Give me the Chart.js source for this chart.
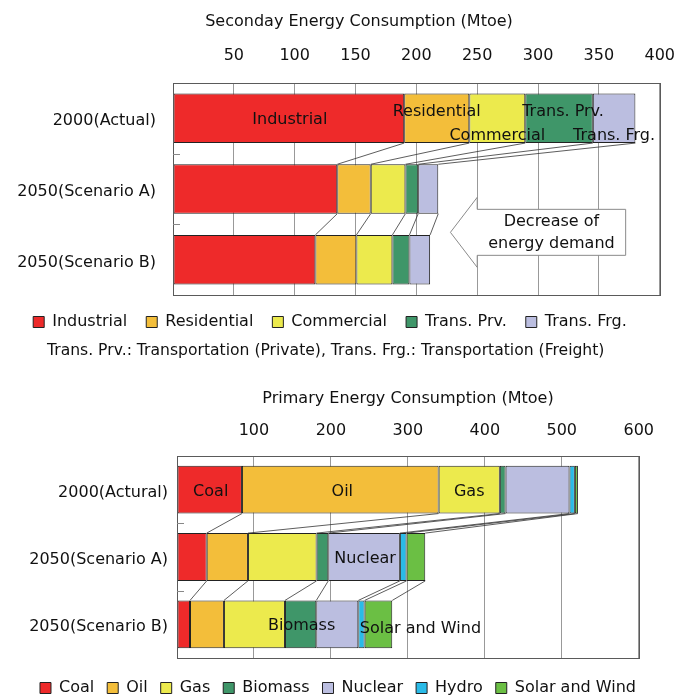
<!DOCTYPE html>
<html><head><meta charset="utf-8">
<script src="https://cdn.jsdelivr.net/npm/chart.js@4.4.1/dist/chart.umd.min.js"></script>
<style>
html,body{margin:0;padding:0;background:#fff;overflow:hidden;width:676px;height:700px}
#w1{position:absolute;left:0;top:0;width:676px;height:362px}
#w2{position:absolute;left:0;top:362px;width:676px;height:344px}
</style></head><body>
<div id="w1"><canvas id="c1"></canvas></div>
<div id="w2"><canvas id="c2"></canvas></div>
<script>
// ---- Secondary energy (Mtoe) ----
const secCategories = ['2000(Actual)', '2050(Scenario A)', '2050(Scenario B)'];
const secIndustrial  = [190, 135, 117];
const secResidential = [53.5, 27.5, 33.7];
const secCommercial  = [46, 28.5, 29.6];
const secTransPrv    = [55.5, 10.5, 14];
const secTransFrg    = [35, 16.5, 17];
const secTickMax = 400, secTickStep = 50;

// ---- Primary energy (Mtoe) ----
const priCategories = ['2000(Actural)', '2050(Scenario A)', '2050(Scenario B)'];
const priCoal      = [84.4, 38.6, 16.9];
const priOil       = [255.6, 53.6, 44.1];
const priGas       = [79.5, 89.2, 79.3];
const priBiomass   = [7.5, 15.2, 40.7];
const priNuclear   = [83, 93, 54.6];
const priHydro     = [7, 8.7, 8.2];
const priSolarWind = [4, 24.3, 35.9];
const priTickMax = 600, priTickStep = 100;

const C = {
  red: '#EE2A2A', orange: '#F3BE3A', yellow: '#ECEA4D', green: '#3F9669',
  lav: '#BBBEE0', cyan: '#2ABBE8', lgreen: '#6BBF44'
};

Chart.defaults.font.family = '"DejaVu Sans", sans-serif';
Chart.defaults.color = '#111';

function overlay(cfg) {
  return {
    id: 'overlay',
    afterDatasetsDraw(chart) {
      const ctx = chart.ctx, ca = chart.chartArea, ys = chart.scales.y, xs = chart.scales.x;
      const n = chart.data.datasets.length, nc = chart.data.labels.length;
      ctx.save();
      // connectors
      ctx.strokeStyle = '#333'; ctx.lineWidth = 0.8;
      for (let c = 0; c < nc - 1; c++) {
        for (let d = 0; d < n; d++) {
          const a = chart.getDatasetMeta(d).data[c];
          const b = chart.getDatasetMeta(d).data[c + 1];
          ctx.beginPath();
          ctx.moveTo(a.x, a.y + a.height / 2);
          ctx.lineTo(b.x, b.y - b.height / 2);
          ctx.stroke();
        }
      }
      // frame
      ctx.strokeStyle = '#5a5a5a'; ctx.lineWidth = 1;
      ctx.strokeRect(Math.round(ca.left) + 0.5, Math.round(ca.top) + 0.5,
        Math.round(ca.right - ca.left), Math.round(ca.bottom - ca.top));
      // tick marks at category boundaries
      ctx.strokeStyle = '#888';
      for (let c = 0; c < nc - 1; c++) {
        const yb = Math.round((ys.getPixelForValue(c) + ys.getPixelForValue(c + 1)) / 2) + 0.5;
        ctx.beginPath(); ctx.moveTo(ca.left, yb); ctx.lineTo(ca.left + 7, yb); ctx.stroke();
      }
      // callout
      const co = cfg.callout;
      if (co) {
        const l = xs.getPixelForValue(co.left), r = xs.getPixelForValue(co.right);
        const tip = xs.getPixelForValue(co.tip);
        const my = (ys.getPixelForValue(1) + ys.getPixelForValue(2)) / 2 + co.dy;
        ctx.beginPath();
        ctx.moveTo(tip, my);
        ctx.lineTo(l, my - co.wing);
        ctx.lineTo(l, my - co.half);
        ctx.lineTo(r, my - co.half);
        ctx.lineTo(r, my + co.half);
        ctx.lineTo(l, my + co.half);
        ctx.lineTo(l, my + co.wing);
        ctx.closePath();
        ctx.fillStyle = '#fff'; ctx.fill();
        ctx.strokeStyle = '#8a8a8a'; ctx.lineWidth = 1; ctx.stroke();
        ctx.fillStyle = '#111'; ctx.font = '16px "DejaVu Sans"';
        ctx.textAlign = 'center'; ctx.textBaseline = 'middle';
        ctx.fillText(co.lines[0], (l + r) / 2, my - 10);
        ctx.fillText(co.lines[1], (l + r) / 2, my + 12);
      }
      // in-bar labels
      ctx.fillStyle = '#111'; ctx.font = '16px "DejaVu Sans"';
      ctx.textAlign = 'center'; ctx.textBaseline = 'middle';
      cfg.labels.forEach(lb => {
        const el = chart.getDatasetMeta(lb.d).data[lb.c];
        ctx.fillText(chart.data.datasets[lb.d].label, (el.x + el.base) / 2 + lb.dx, el.y + lb.dy);
      });
      // title
      ctx.font = '16px "DejaVu Sans"';
      ctx.fillText(cfg.title, cfg.titleX, cfg.titleY);
      // note line
      if (cfg.note) {
        ctx.font = '15.6px "DejaVu Sans"';
        ctx.textAlign = 'left';
        ctx.fillText(cfg.note, cfg.noteX, ca.bottom + cfg.noteDy);
      }
      ctx.restore();
    }
  };
}

function ds(label, data, color) {
  return { label, data, backgroundColor: color, borderColor: '#222', borderWidth: 1, borderSkipped: false };
}

new Chart(document.getElementById('c1'), {
  type: 'bar',
  data: {
    labels: secCategories,
    datasets: [
      ds('Industrial', secIndustrial, C.red),
      ds('Residential', secResidential, C.orange),
      ds('Commercial', secCommercial, C.yellow),
      ds('Trans. Prv.', secTransPrv, C.green),
      ds('Trans. Frg.', secTransFrg, C.lav)
    ]
  },
  options: {
    indexAxis: 'y', responsive: true, maintainAspectRatio: false, animation: false,
    layout: { padding: { left: 0, right: 16, top: 0, bottom: 22 } },
    datasets: { bar: { barPercentage: 0.7, categoryPercentage: 1 } },
    scales: {
      x: {
        type: 'linear', position: 'top', stacked: true, min: 0, max: secTickMax,
        ticks: { stepSize: secTickStep, padding: 1, font: { size: 16 }, callback: v => v === 0 ? '' : v },
        grid: { color: '#999', drawTicks: true, tickLength: 17, tickColor: 'rgba(0,0,0,0)' }, border: { display: false },
        afterFit: s => { s.height = 83; }
      },
      y: {
        stacked: true,
        ticks: { padding: 17, labelOffset: 3, font: { size: 16 } },
        grid: { display: false, drawTicks: false }, border: { display: false },
        afterFit: s => { s.width = 173; }
      }
    },
    plugins: {
      legend: { position: 'bottom', labels: { boxWidth: 11, boxHeight: 11, padding: 19, font: { size: 16 } } },
      tooltip: { enabled: false }
    }
  },
  plugins: [overlay({
    title: 'Seconday Energy Consumption (Mtoe)', titleX: 359, titleY: 22,
    note: 'Trans. Prv.: Transportation (Private), Trans. Frg.: Transportation (Freight)', noteX: 47, noteDy: 56,
    labels: [
      { d: 0, c: 0, dx: 1, dy: 2 },
      { d: 1, c: 0, dx: 0, dy: -6 },
      { d: 2, c: 0, dx: 0, dy: 18 },
      { d: 3, c: 0, dx: 4, dy: -6 },
      { d: 4, c: 0, dx: 0, dy: 18 }
    ],
    callout: { left: 250, right: 372, tip: 228, dy: 8, half: 23, wing: 35, lines: ['Decrease of', 'energy demand'] }
  })]
});

new Chart(document.getElementById('c2'), {
  type: 'bar',
  data: {
    labels: priCategories,
    datasets: [
      ds('Coal', priCoal, C.red),
      ds('Oil', priOil, C.orange),
      ds('Gas', priGas, C.yellow),
      ds('Biomass', priBiomass, C.green),
      ds('Nuclear', priNuclear, C.lav),
      ds('Hydro', priHydro, C.cyan),
      ds('Solar and Wind', priSolarWind, C.lgreen)
    ]
  },
  options: {
    indexAxis: 'y', responsive: true, maintainAspectRatio: false, animation: false,
    layout: { padding: { left: 0, right: 0, top: 0, bottom: 0 } },
    datasets: { bar: { barPercentage: 0.71, categoryPercentage: 1 } },
    scales: {
      x: {
        type: 'linear', position: 'top', stacked: true, min: 0, max: priTickMax,
        ticks: { stepSize: priTickStep, padding: 22, font: { size: 16 }, callback: v => v === 0 ? '' : v },
        grid: { color: '#999', drawTicks: true, tickLength: -6.6, tickColor: 'rgba(0,0,0,0)' }, border: { display: false },
        afterFit: s => { s.height = 94; }
      },
      y: {
        stacked: true,
        ticks: { padding: 9, labelOffset: 3, font: { size: 16 } },
        grid: { display: false, drawTicks: false }, border: { display: false },
        afterFit: s => { s.width = 177; }
      }
    },
    plugins: {
      legend: { position: 'bottom', labels: { boxWidth: 11, boxHeight: 11, padding: 13, font: { size: 16 } },
        title: { display: true, text: ' ', font: { size: 1 }, padding: { top: 7.8, bottom: 0 } } },
      tooltip: { enabled: false }
    }
  },
  plugins: [overlay({
    title: 'Primary Energy Consumption (Mtoe)', titleX: 408, titleY: 37,
    labels: [
      { d: 0, c: 0, dx: 1, dy: 2 },
      { d: 1, c: 0, dx: 2, dy: 2 },
      { d: 2, c: 0, dx: 0, dy: 2 },
      { d: 4, c: 1, dx: 1, dy: 2 },
      { d: 3, c: 2, dx: 1, dy: 2 },
      { d: 6, c: 2, dx: 42, dy: 5 }
    ],
    callout: null
  })]
});
</script>
</body></html>
